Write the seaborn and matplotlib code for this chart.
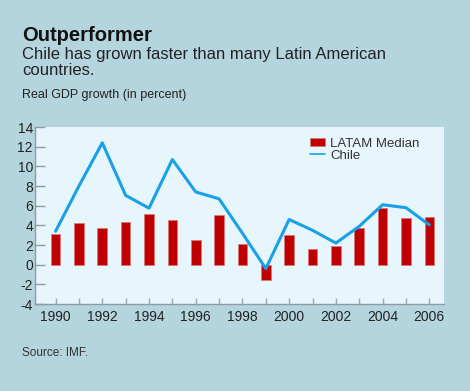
import numpy as np
import pandas as pd
import seaborn as sns
import matplotlib.pyplot as plt
from matplotlib.patches import Patch
from matplotlib.lines import Line2D

years = list(range(1990, 2007))
latam_median = [3.15, 4.25, 3.7, 4.35, 5.2, 4.5, 2.55, 5.1, 2.1,
                -1.55, 3.0, 1.55, 1.95, 3.7, 5.8, 4.8, 4.9]
chile = [3.4, 8.0, 12.4, 7.05, 5.75, 10.7, 7.4, 6.7, 3.2,
         -0.4, 4.6, 3.5, 2.2, 3.9, 6.1, 5.8, 4.05]
y_ticks = [-4, -2, 0, 2, 4, 6, 8, 10, 12, 14]
x_labels = [1990, 1992, 1994, 1996, 1998, 2000, 2002, 2004, 2006]

outer_bg = '#b5d5de'
panel_bg = '#e6f6fc'
bar_red = '#c00000'
line_blue = '#1aa0e6'
grey = '#8c9ca0'

df = pd.DataFrame({'year': years, 'latam': latam_median, 'chile': chile})

sns.set_style('white')
plt.rcParams['font.family'] = ['Liberation Sans', 'DejaVu Sans']
plt.rcParams['axes.unicode_minus'] = False

fig = plt.figure(figsize=(4.7, 3.91), dpi=100, facecolor=outer_bg)
ax = fig.add_axes([0.0745, 0.2225, 0.8702, 0.4525])
ax.set_facecolor(panel_bg)

sns.barplot(data=df, x='year', y='latam', native_scale=True, width=0.41,
            color=bar_red, edgecolor='#d67a7a', linewidth=0.6,
            saturation=1, ax=ax)
sns.lineplot(data=df, x='year', y='chile', color=line_blue, linewidth=2.2,
             ax=ax)

ax.set_xlim(1989.12, 2006.63)
ax.set_ylim(-4, 14)
ax.set_yticks(y_ticks)
ax.set_yticklabels([str(v) for v in y_ticks])
ax.set_xticks(x_labels)
ax.set_xticklabels([str(v) for v in x_labels])
ax.set_xticks(years, minor=True)
ax.set_xlabel('')
ax.set_ylabel('')

ax.tick_params(axis='y', direction='in', length=7, width=1, color=grey,
               pad=1.5, labelsize=10, labelcolor='#222222', left=True)
ax.tick_params(axis='x', which='both', direction='in', length=4, width=1,
               color='#a0a8aa', pad=4, labelsize=10, labelcolor='#222222',
               bottom=True)

for side in ['top', 'right']:
    ax.spines[side].set_visible(False)
for side in ['left', 'bottom']:
    ax.spines[side].set_color(grey)
    ax.spines[side].set_linewidth(1)

handles = [Patch(facecolor=bar_red, edgecolor='#d67a7a', linewidth=0.6),
           Line2D([0], [0], color=line_blue, linewidth=1.2)]
ax.legend(handles, ['LATAM Median', 'Chile'], loc='upper left',
          bbox_to_anchor=(0.66, 0.97), frameon=False, fontsize=9.5,
          handlelength=1.1, handleheight=0.6, handletextpad=0.4,
          labelspacing=0.0, borderaxespad=0, labelcolor='#333333')

fig.text(0.047, 0.895, 'Outperformer', fontsize=14.5, fontweight='bold',
         color='#111111', va='baseline')
fig.text(0.047, 0.849, 'Chile has grown faster than many Latin American',
         fontsize=12, color='#222222', va='baseline')
fig.text(0.047, 0.808, 'countries.', fontsize=12, color='#222222',
         va='baseline')
fig.text(0.047, 0.749, 'Real GDP growth (in percent)', fontsize=9,
         color='#222222', va='baseline')
fig.text(0.047, 0.0895, 'Source: IMF.', fontsize=8.5, color='#333333',
         va='baseline')

fig.savefig('out.png', dpi=100, facecolor=outer_bg)
